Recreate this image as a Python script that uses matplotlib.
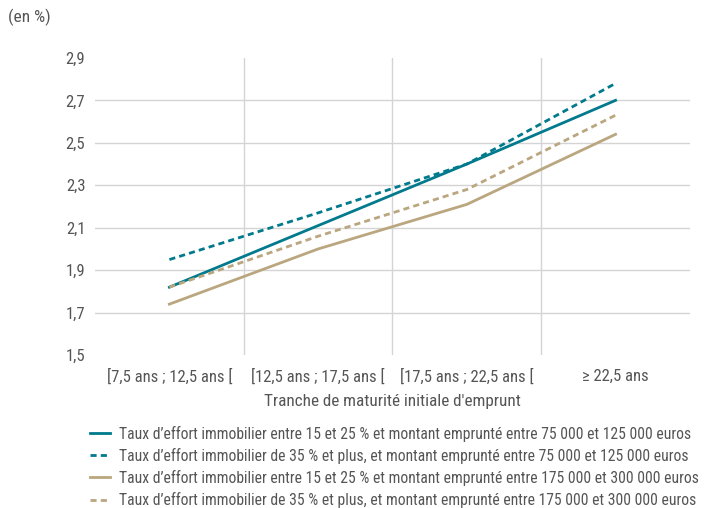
import numpy as np
import matplotlib
matplotlib.use('Agg')
import matplotlib.pyplot as plt
from matplotlib import font_manager

# Condensed sans-serif, first one installed
names = {f.name for f in font_manager.fontManager.ttflist}
family = 'Roboto'
for cand in ['Roboto Condensed', 'Archivo Narrow', 'Barlow Semi Condensed', 'Asap Condensed']:
    if cand in names:
        family = cand
        break
plt.rcParams['font.family'] = [family, 'DejaVu Sans']

# Data
categories = ['[7,5 ans ; 12,5 ans [', '[12,5 ans ; 17,5 ans [',
              '[17,5 ans ; 22,5 ans [', '\u2265 22,5 ans']
teal_15_25 = [1.82, 2.11, 2.40, 2.70]
teal_35 = [1.95, 2.17, 2.40, 2.78]
tan_15_25 = [1.74, 2.00, 2.21, 2.54]
tan_35 = [1.82, 2.06, 2.28, 2.63]
labels = [
    "Taux d\u2019effort immobilier entre 15 et 25 % et montant emprunt\u00e9 entre 75 000 et 125 000 euros",
    "Taux d\u2019effort immobilier de 35 % et plus, et montant emprunt\u00e9 entre 75 000 et 125 000 euros",
    "Taux d\u2019effort immobilier entre 15 et 25 % et montant emprunt\u00e9 entre 175 000 et 300 000 euros",
    "Taux d\u2019effort immobilier de 35 % et plus, et montant emprunt\u00e9 entre 175 000 et 300 000 euros",
]
yticks = [1.5, 1.7, 1.9, 2.1, 2.3, 2.5, 2.7, 2.9]

teal = '#007a8c'
tan = '#baa67f'
grid_c = '#d4d4d4'
text_c = '#555555'

fig = plt.figure(figsize=(7.04, 5.08), dpi=100)
ax = fig.add_axes([0.135, 0.301, 0.845, 0.585])

x = np.arange(len(categories))
series = [(teal_15_25, teal, '-'), (teal_35, teal, '--'),
          (tan_15_25, tan, '-'), (tan_35, tan, '--')]
handles = []
for (vals, col, ls), lab in zip(series, labels):
    ln, = ax.plot(x, vals, color=col, lw=2, ls=ls, label=lab, zorder=3)
    if ls == '--':
        ln.set_dashes((2.2, 1.5))
    handles.append(ln)

# gridlines: horizontal for inner ticks, vertical between categories
for v in yticks[1:-1]:
    ax.axhline(v, color=grid_c, lw=1, zorder=1)
for b in [0.5, 1.5, 2.5]:
    ax.axvline(b, color=grid_c, lw=1, zorder=1)

ax.set_xlim(-0.5, 3.5)
ax.set_ylim(1.5, 2.9)
ax.set_yticks(yticks)
ax.set_yticklabels([f'{v:.1f}'.replace('.', ',') for v in yticks])
ax.set_xticks(x)
ax.set_xticklabels(categories)
ax.tick_params(length=0, labelsize=12, colors=text_c)
ax.tick_params(axis='x', pad=10)
ax.tick_params(axis='y', pad=7)
for s in ax.spines.values():
    s.set_visible(False)

ax.set_xlabel("Tranche de maturit\u00e9 initiale d'emprunt", fontsize=12.3,
              color=text_c, labelpad=6)
fig.text(0.011, 0.965, '(en %)', fontsize=12.5, color=text_c, va='center')

leg = fig.legend(handles=handles, loc='upper left', bbox_to_anchor=(0.128, 0.162),
                 bbox_transform=fig.transFigure, frameon=False, fontsize=11.25,
                 handlelength=1.3, handletextpad=0.55, labelspacing=0.39,
                 borderaxespad=0, borderpad=0)
for t in leg.get_texts():
    t.set_color(text_c)

fig.savefig('out.png', dpi=100, facecolor='white')
